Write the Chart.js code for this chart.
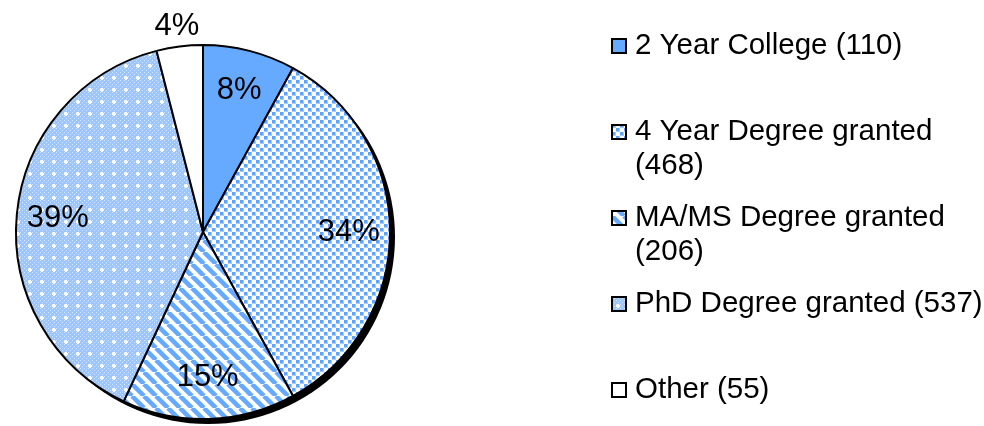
<!DOCTYPE html>
<html>
<head>
<meta charset="utf-8">
<script src="https://cdn.jsdelivr.net/npm/chart.js@4"></script>
<style>
  html, body { margin: 0; padding: 0; background: #fff; }
  #wrap { width: 984px; height: 426px; position: relative; }
</style>
</head>
<body>
<div id="wrap"><canvas id="pie"></canvas></div>
<script>
var categories = ['2 Year College', '4 Year Degree granted', 'MA/MS Degree granted', 'PhD Degree granted', 'Other'];
var counts = [110, 468, 206, 537, 55];

var BLUE = '#66aaff';
var FONT = '"Liberation Sans", Arial, sans-serif';

// fill patterns, one per slice
function makeTile(w, h, draw) {
  var c = document.createElement('canvas');
  c.width = w; c.height = h;
  var g = c.getContext('2d');
  draw(g);
  return document.createElement('canvas').getContext('2d').createPattern(c, 'repeat');
}

var squares = makeTile(8, 8, function (g) {
  g.fillStyle = '#fff'; g.fillRect(0, 0, 8, 8);
  g.fillStyle = '#a6ccff';
  g.fillRect(0, 0, 4, 4);
  g.fillRect(4, 4, 4, 4);
  g.fillStyle = '#5ca4ff';
  g.fillRect(0, 0, 3, 3);
  g.fillRect(4, 4, 3, 3);
});

var stripes = makeTile(12, 12, function (g) {
  g.fillStyle = '#fff'; g.fillRect(0, 0, 12, 12);
  g.strokeStyle = BLUE; g.lineWidth = 4.6;
  g.beginPath();
  for (var k = -12; k <= 24; k += 12) { g.moveTo(k, 0); g.lineTo(k + 12, 12); }
  g.stroke();
});

var checks = makeTile(12, 12, function (g) {
  g.fillStyle = '#9dc6ff'; g.fillRect(0, 0, 12, 12);
  g.fillStyle = '#d3e6ff';
  for (var i = 0; i < 12; i += 2) for (var j = 0; j < 12; j += 2) {
    if (((i + j) / 2) % 2 === 0) g.fillRect(i, j, 1, 1);
  }
  g.fillStyle = '#fff';
  g.fillRect(5, 4, 2, 4); g.fillRect(4, 5, 4, 2);
});

var fills = [BLUE, squares, stripes, checks, '#ffffff'];

var total = counts.reduce(function (a, b) { return a + b; }, 0);

// offset black disc behind the pie, gives the shadow rim
var shadowPlugin = {
  id: 'shadow',
  beforeDatasetsDraw: function (chart) {
    var a = chart.getDatasetMeta(0).data[0];
    var ctx = chart.ctx;
    ctx.save();
    ctx.fillStyle = '#000';
    ctx.beginPath();
    ctx.arc(a.x + 5, a.y + 5, a.outerRadius, 0, Math.PI * 2);
    ctx.fill();
    ctx.restore();
  }
};

// percentage labels on the slices
var labelPlugin = {
  id: 'pctLabels',
  afterDatasetsDraw: function (chart) {
    var ctx = chart.ctx;
    var arcs = chart.getDatasetMeta(0).data;
    ctx.save();
    ctx.font = '31px ' + FONT;
    ctx.fillStyle = '#000';
    ctx.textAlign = 'center';
    ctx.textBaseline = 'middle';
    arcs.forEach(function (a, i) {
      var share = counts[i] / total;
      var mid = (a.startAngle + a.endAngle) / 2;
      var r = share < 0.05 ? a.outerRadius * 1.11 : a.outerRadius * 0.78;
      ctx.fillText(Math.round(share * 100) + '%', a.x + Math.cos(mid) * r, a.y + Math.sin(mid) * r);
    });
    ctx.restore();
  }
};

// legend on the right, wrapped like the original
var legendPlugin = {
  id: 'sideLegend',
  afterDraw: function (chart) {
    var ctx = chart.ctx;
    ctx.save();
    ctx.font = '29.5px ' + FONT;
    ctx.textBaseline = 'middle';
    var x0 = 612, y0 = 46, step = 86, maxW = 356;
    categories.forEach(function (cat, i) {
      var y = y0 + i * step;
      ctx.fillStyle = fills[i];
      ctx.fillRect(x0, y - 7, 14, 14);
      ctx.strokeStyle = '#000';
      ctx.lineWidth = 2;
      ctx.strokeRect(x0, y - 7, 14, 14);
      var words = (cat + ' (' + counts[i] + ')').split(' ');
      var lines = [], line = '';
      words.forEach(function (w) {
        var test = line ? line + ' ' + w : w;
        if (ctx.measureText(test).width > maxW && line) { lines.push(line); line = w; }
        else line = test;
      });
      lines.push(line);
      ctx.fillStyle = '#000';
      lines.forEach(function (l, k) { ctx.fillText(l, 635, y + k * 34); });
    });
    ctx.restore();
  }
};

new Chart(document.getElementById('pie'), {
  type: 'pie',
  data: {
    labels: categories,
    datasets: [{
      data: counts,
      backgroundColor: fills,
      borderColor: '#000',
      borderWidth: 2
    }]
  },
  options: {
    responsive: true,
    maintainAspectRatio: false,
    animation: false,
    layout: { padding: { left: 15, top: 44, right: 593, bottom: 6 } },
    plugins: {
      legend: { display: false },
      tooltip: { enabled: false }
    }
  },
  plugins: [shadowPlugin, labelPlugin, legendPlugin]
});
</script>
</body>
</html>
